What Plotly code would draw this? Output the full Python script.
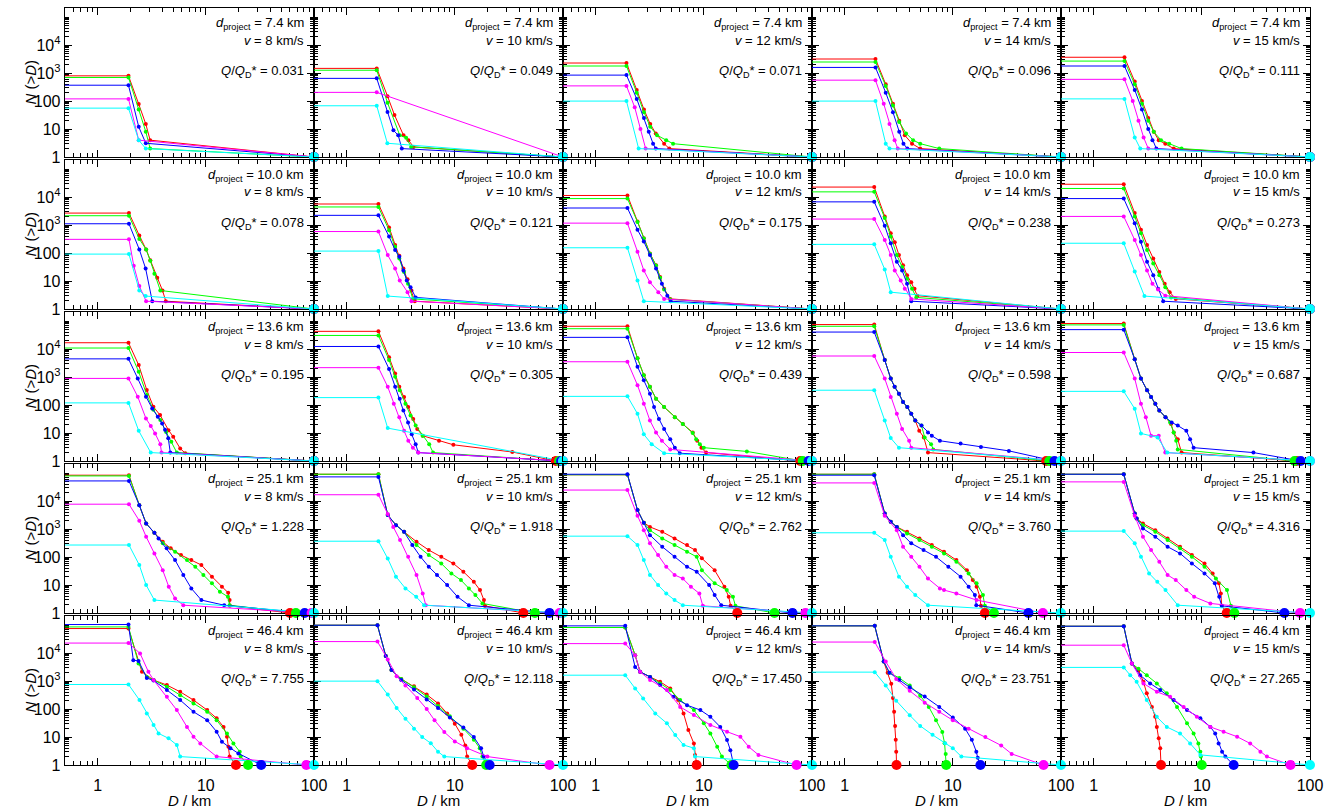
import plotly.graph_objects as go

# ---------------- labels ----------------
d_project = ["7.4", "10.0", "13.6", "25.1", "46.4"]
v_kms = ["8", "10", "12", "14", "15"]
q_ratio = [
    ["0.031", "0.049", "0.071", "0.096", "0.111"],
    ["0.078", "0.121", "0.175", "0.238", "0.273"],
    ["0.195", "0.305", "0.439", "0.598", "0.687"],
    ["1.228", "1.918", "2.762", "3.760", "4.316"],
    ["7.755", "12.118", "17.450", "23.751", "27.265"],
]
series_colors = ["#ff0000", "#00ff00", "#0000ff", "#ff00ff", "#00ffff"]
x_tickvals = [1, 10, 100]
x_ticktext = ["1", "10", "100"]
y_tickvals = [1, 10, 100, 1000, 10000]
y_ticktext = ["1", "10", "100", "10<sup>3</sup>", "10<sup>4</sup>"]

# ---------------- data: (D [km], N(>D)) ----------------
# row 1: d_project = 7.4 km
p11_red = [(0.1, 800), (1.93, 800), (2.4, 78), (2.79, 15), (3.06, 4), (100, 1)]
p11_green = [(0.1, 700), (1.93, 700), (2.4, 50), (2.79, 8), (3.06, 2), (100, 1)]
p11_blue = [(0.1, 370), (1.93, 370), (2.4, 12), (2.79, 3.1), (100, 1)]
p11_magenta = [(0.1, 120), (1.93, 120), (2.4, 4), (100, 1)]
p11_cyan = [(0.1, 56), (1.93, 56), (2.4, 4), (2.79, 2), (100, 1)]

p12_red = [(0.1, 1480), (1.9, 1480), (2.39, 150), (2.77, 32), (3.36, 6), (3.73, 4), (4.15, 2.3), (100, 1)]
p12_green = [(0.1, 1270), (1.9, 1270), (2.39, 87), (3.1, 6), (3.55, 4.9), (3.95, 2.3), (100, 1)]
p12_blue = [(0.1, 650), (1.9, 650), (2.39, 41), (2.71, 9), (3.0, 6), (3.24, 2), (100, 1)]
p12_magenta = [(0.1, 205), (1.9, 205), (100, 1)]
p12_cyan = [(0.1, 68), (1.9, 68), (2.38, 3.1), (100, 1)]

p13_red = [(0.1, 2300), (1.93, 2300), (2.4, 250), (2.8, 50), (3.2, 15), (3.6, 7), (4.3, 3), (4.8, 2), (100, 1)]
p13_green = [(0.1, 1800), (1.93, 1800), (2.4, 200), (2.8, 40), (3.2, 12), (3.7, 6), (4.5, 4), (5.2, 3), (100, 1)]
p13_blue = [(0.1, 850), (1.93, 850), (2.4, 120), (2.8, 25), (3.1, 8), (3.4, 3), (3.6, 2), (100, 1)]
p13_magenta = [(0.1, 350), (1.93, 350), (2.3, 60), (2.6, 10), (2.9, 2), (100, 1)]
p13_cyan = [(0.1, 100), (1.93, 100), (2.5, 2), (100, 1)]

p14_red = [(0.1, 3200), (1.93, 3200), (2.4, 400), (2.8, 80), (3.2, 20), (3.6, 6), (4.2, 3), (5.0, 2), (100, 1)]
p14_green = [(0.1, 2500), (1.93, 2500), (2.4, 350), (2.8, 70), (3.2, 18), (3.7, 7), (4.3, 4), (5.0, 3), (7.5, 2), (100, 1)]
p14_blue = [(0.1, 1600), (1.93, 1600), (2.4, 200), (2.8, 40), (3.2, 8), (3.5, 3), (3.8, 2), (100, 1)]
p14_magenta = [(0.1, 560), (1.93, 560), (2.3, 80), (2.6, 15), (2.9, 4), (3.1, 2), (100, 1)]
p14_cyan = [(0.1, 100), (1.93, 100), (2.4, 3), (2.6, 2), (100, 1)]

p15_red = [(0.1, 3700), (1.93, 3700), (2.4, 500), (2.8, 100), (3.2, 25), (3.6, 8), (4.0, 4), (4.6, 3), (5.5, 2), (100, 1)]
p15_green = [(0.1, 2700), (1.93, 2700), (2.4, 400), (2.8, 80), (3.2, 20), (3.6, 8), (4.2, 4), (5.0, 3), (6.5, 2), (100, 1)]
p15_blue = [(0.1, 1800), (1.93, 1800), (2.4, 250), (2.8, 50), (3.2, 10), (3.5, 4), (3.8, 2), (100, 1)]
p15_magenta = [(0.1, 600), (1.93, 600), (2.3, 100), (2.6, 20), (2.9, 5), (3.2, 2), (100, 1)]
p15_cyan = [(0.1, 120), (1.93, 120), (2.4, 5), (2.7, 2), (100, 1)]

# row 2: d_project = 10.0 km
p21_red = [(0.1, 2700), (1.95, 2700), (2.43, 425), (2.81, 135), (3.07, 56), (3.56, 13), (3.98, 4.6), (4.27, 1.9), (100, 1)]
p21_green = [(0.1, 2170), (1.95, 2170), (2.43, 320), (2.81, 135), (3.07, 53), (3.35, 18.4), (3.8, 4.6), (100, 1)]
p21_blue = [(0.1, 1120), (1.95, 1120), (2.43, 135), (2.78, 28), (3.2, 1.9), (100, 1)]
p21_magenta = [(0.1, 310), (1.95, 310), (2.16, 35), (2.43, 6.6), (2.81, 1.9), (100, 1)]
p21_cyan = [(0.1, 92), (1.95, 92), (2.43, 4.6), (2.78, 2.9), (100, 1)]

p22_red = [(0.1, 5700), (1.97, 5700), (2.47, 830), (2.81, 195), (3.07, 80), (3.35, 28), (3.66, 11.5), (3.98, 4.6), (4.27, 1.9), (100, 1)]
p22_green = [(0.1, 4470), (1.97, 4470), (2.47, 660), (2.81, 170), (3.07, 64), (3.4, 21), (3.7, 8), (4.1, 2.3), (100, 1)]
p22_blue = [(0.1, 2240), (1.97, 2240), (2.47, 390), (2.81, 128), (3.07, 74), (3.35, 24), (3.6, 10.5), (3.9, 6), (4.35, 2.6), (100, 1)]
p22_magenta = [(0.1, 590), (1.97, 590), (2.4, 85), (2.81, 28), (3.1, 10.5), (3.66, 4), (3.98, 1.9), (100, 1)]
p22_cyan = [(0.1, 118), (1.97, 118), (2.4, 2.9), (100, 1)]

p23_red = [(0.1, 11500), (1.97, 11500), (2.44, 1350), (2.79, 340), (3.18, 97), (3.62, 37), (3.95, 14), (4.3, 5.3), (4.9, 2.3), (100, 1)]
p23_green = [(0.1, 8900), (1.97, 8900), (2.44, 1300), (2.79, 330), (3.18, 95), (3.62, 36), (3.95, 13), (4.3, 5), (4.9, 2.2), (100, 1)]
p23_blue = [(0.1, 4100), (1.97, 4100), (2.44, 680), (2.79, 260), (3.18, 85), (3.62, 28), (4.1, 8), (4.6, 3), (4.95, 1.9), (100, 1)]
p23_magenta = [(0.1, 1180), (1.97, 1180), (2.44, 112), (2.79, 24), (3.18, 9), (3.8, 4), (4.3, 2.3), (100, 1)]
p23_cyan = [(0.1, 155), (1.97, 155), (2.44, 10.5), (2.79, 1.9), (100, 1)]

p24_red = [(0.1, 23000), (1.88, 23000), (2.35, 2050), (2.67, 515), (2.91, 245), (3.18, 85), (3.47, 37), (3.78, 16), (4.13, 9), (4.43, 5.3), (4.7, 3), (100, 1)]
p24_green = [(0.1, 15500), (1.88, 15500), (2.35, 1800), (2.67, 390), (3.04, 85), (3.4, 32), (3.78, 12), (4.2, 5.3), (4.6, 2.6), (100, 1)]
p24_blue = [(0.1, 6800), (1.88, 6800), (2.35, 950), (2.67, 225), (3.04, 49), (3.4, 24), (3.78, 8), (4.13, 1.9), (100, 1)]
p24_magenta = [(0.1, 1650), (1.88, 1650), (2.35, 295), (2.67, 85), (2.91, 24), (3.3, 10.5), (3.6, 5.3), (4.13, 2.3), (100, 1)]
p24_cyan = [(0.1, 205), (1.88, 205), (2.35, 26), (2.67, 4), (100, 1)]

p25_red = [(0.1, 29000), (1.9, 29000), (2.4, 2700), (2.74, 680), (3.12, 195), (3.56, 64), (4.05, 21), (4.54, 8), (5.05, 4), (5.75, 2.3), (100, 1)]
p25_green = [(0.1, 20500), (1.9, 20500), (2.4, 2050), (2.74, 515), (3.12, 128), (3.56, 42), (4.05, 16), (4.6, 6), (5.2, 2.6), (100, 1)]
p25_blue = [(0.1, 8900), (1.9, 8900), (2.4, 1180), (2.74, 257), (3.12, 49), (3.56, 16), (3.95, 5.3), (4.4, 1.9), (100, 1)]
p25_magenta = [(0.1, 2050), (1.9, 2050), (2.4, 295), (2.74, 85), (3.12, 24), (3.5, 8), (3.95, 5), (4.6, 3), (100, 1)]
p25_cyan = [(0.1, 225), (1.9, 225), (2.4, 22), (2.95, 2.9), (100, 1)]

# row 3: d_project = 13.6 km
p31_red = [(0.1, 17000), (1.93, 17000), (2.4, 2700), (2.85, 345), (3.28, 87), (3.78, 44), (4.52, 12.7), (5.0, 7.4), (5.8, 2.8), (6.46, 1.9), (100, 1)]
p31_green = [(0.1, 11000), (1.93, 11000), (2.4, 1550), (2.85, 230), (3.28, 68), (3.8, 29), (4.3, 11), (4.8, 4.9), (5.4, 2.0), (100, 1)]
p31_blue = [(0.1, 4500), (1.93, 4500), (2.35, 900), (2.8, 200), (3.2, 76), (3.6, 38), (3.95, 22), (4.2, 13), (4.5, 6.5), (4.7, 2.0), (100, 1)]
p31_magenta = [(0.1, 900), (1.93, 900), (2.35, 200), (2.8, 33), (3.1, 18), (3.4, 9.7), (3.8, 4), (3.9, 2), (100, 1)]
p31_cyan = [(0.1, 120), (1.93, 120), (2.4, 12), (3.1, 2), (100, 1)]

p32_red = [(0.1, 43500), (1.97, 43500), (2.47, 5100), (2.81, 1350), (3.07, 450), (3.4, 195), (3.71, 85), (4.13, 32), (4.5, 14), (5.05, 8), (7.15, 5.3), (9.7, 3.8), (34, 2.1), (86, 1)]
p32_green = [(0.1, 31000), (1.97, 31000), (2.47, 4100), (2.81, 1030), (3.1, 340), (3.5, 112), (3.9, 42), (4.35, 18.5), (5.05, 8), (5.8, 4), (6.3, 2), (92, 1)]
p32_blue = [(0.1, 12500), (1.97, 12500), (2.47, 1950), (2.81, 450), (3.1, 170), (3.35, 64), (3.7, 24), (4.0, 9), (4.35, 4), (4.6, 2), (96, 1)]
p32_magenta = [(0.1, 2180), (1.97, 2180), (2.4, 450), (2.73, 112), (3.07, 37), (3.4, 12), (3.72, 5.3), (4.1, 3), (4.6, 2), (100, 1)]
p32_cyan = [(0.1, 185), (1.97, 185), (2.4, 15), (100, 1)]

p33_red = [(0.1, 66000), (1.97, 66000), (2.44, 4700), (2.79, 1180), (3.18, 450), (3.62, 170), (4.3, 85), (5.4, 37), (6.4, 21), (7.9, 10.5), (8.7, 5.3), (9.5, 3), (10.5, 2), (78, 1)]
p33_green = [(0.1, 54000), (1.97, 54000), (2.44, 4700), (2.79, 1180), (3.18, 450), (3.62, 170), (4.3, 85), (5.4, 37), (6.4, 21), (7.9, 10), (8.5, 6), (9.2, 4), (10, 3), (25, 2.2), (82, 1)]
p33_blue = [(0.1, 26500), (1.97, 26500), (2.44, 2350), (2.79, 780), (3.18, 257), (3.47, 85), (3.85, 32), (4.3, 14), (4.9, 6), (5.4, 3), (6.0, 1.9), (93, 1)]
p33_magenta = [(0.1, 3550), (1.97, 3550), (2.44, 515), (2.79, 112), (3.18, 28), (3.62, 10.5), (4.1, 5.3), (4.9, 2.6), (100, 1)]
p33_cyan = [(0.1, 205), (1.97, 205), (2.44, 49), (2.79, 9), (3.3, 4), (4.3, 1.9), (100, 1)]

p34_red = [(0.1, 76000), (1.88, 76000), (2.35, 4100), (2.67, 890), (2.9, 450), (3.18, 257), (3.47, 128), (3.8, 85), (4.13, 49), (4.5, 28), (4.9, 12), (5.4, 7), (5.9, 2.0), (73, 1)]
p34_green = [(0.1, 66000), (1.88, 66000), (2.35, 4100), (2.67, 890), (2.9, 450), (3.18, 257), (3.47, 128), (3.8, 85), (4.13, 49), (4.5, 28), (5.14, 18.5), (5.5, 7), (6.3, 4), (6.6, 2.6), (78, 1)]
p34_blue = [(0.1, 41000), (1.88, 41000), (2.35, 4100), (2.67, 890), (2.9, 450), (3.18, 257), (3.47, 128), (3.8, 85), (4.13, 49), (4.5, 28), (5.14, 18.5), (5.9, 10.5), (6.4, 8), (7.6, 5.3), (11.8, 4.2), (18.2, 3.2), (33, 2.3), (87, 1)]
p34_magenta = [(0.1, 5700), (1.88, 5700), (2.35, 890), (2.67, 195), (3.04, 49), (3.4, 14), (3.95, 5.3), (4.13, 3), (100, 1)]
p34_cyan = [(0.1, 340), (1.88, 340), (2.35, 28), (2.67, 6.6), (3.18, 3), (100, 1)]

p35_red = [(0.1, 83000), (1.9, 83000), (2.4, 4350), (2.74, 890), (3.12, 340), (3.4, 195), (3.72, 112), (4.05, 64), (4.62, 37), (5.2, 21), (5.5, 10.5), (6.0, 6), (6.5, 2), (75, 1)]
p35_green = [(0.1, 74000), (1.9, 74000), (2.4, 4350), (2.74, 890), (3.12, 340), (3.4, 195), (3.72, 112), (4.05, 64), (4.62, 37), (5.1, 24), (5.5, 10.5), (5.8, 5.3), (6.0, 2.6), (72, 1)]
p35_blue = [(0.1, 50000), (1.9, 50000), (2.4, 4350), (2.74, 890), (3.12, 340), (3.4, 195), (3.72, 112), (4.05, 64), (4.62, 37), (5.27, 24), (6.0, 18.5), (7.2, 12), (7.8, 6), (8.4, 3), (30, 2), (82, 1)]
p35_magenta = [(0.1, 7600), (1.9, 7600), (2.4, 890), (2.74, 112), (3.04, 37), (3.4, 8), (4.0, 8), (4.6, 2), (100, 1)]
p35_cyan = [(0.1, 310), (1.9, 310), (2.4, 74), (2.74, 9.7), (3.9, 7), (4.8, 2), (100, 1)]

# row 4: d_project = 25.1 km
p41_red = [(0.1, 85000), (1.95, 85000), (2.43, 7200), (2.81, 1590), (3.35, 740), (4.0, 355), (4.74, 205), (5.9, 118), (7.35, 78), (9.1, 52), (11.4, 20), (14.1, 8.7), (16.1, 5.3), (16.6, 2.9), (16.7, 1.8), (60, 1)]
p41_green = [(0.1, 80000), (1.95, 80000), (2.43, 7200), (2.81, 1590), (3.35, 740), (4.0, 310), (5.2, 155), (6.7, 78), (8.0, 45), (9.5, 23), (11.4, 11.5), (13.5, 5.8), (16.0, 3.8), (16.6, 1.9), (68, 1)]
p41_blue = [(0.1, 53000), (1.95, 53000), (2.43, 7200), (2.81, 1590), (3.35, 740), (3.66, 465), (4.35, 205), (5.2, 78), (6.2, 23), (7.35, 7.6), (9.1, 2.9), (14.8, 1.9), (82, 1)]
p41_magenta = [(0.1, 7800), (1.95, 7800), (2.43, 2000), (2.81, 535), (3.35, 135), (4.0, 34), (4.55, 8.7), (5.2, 3.3), (6.2, 1.9), (95, 1)]
p41_cyan = [(0.1, 270), (1.95, 270), (2.43, 52), (2.81, 10), (3.35, 2.9), (100, 1)]

p42_red = [(0.1, 92000), (1.97, 92000), (2.4, 3200), (2.86, 1390), (3.4, 800), (4.43, 355), (5.75, 178), (7.5, 102), (9.7, 59), (12, 30), (15, 13), (17.1, 6.6), (18.6, 2.9), (19, 1.8), (43, 1)]
p42_green = [(0.1, 92000), (1.97, 92000), (2.4, 3200), (2.86, 1390), (3.4, 800), (4.43, 270), (5.75, 118), (7.5, 59), (9.3, 26), (11.4, 15), (13.5, 7.6), (15.5, 4.4), (18, 2.2), (55, 1)]
p42_blue = [(0.1, 74000), (1.97, 74000), (2.4, 3200), (2.86, 1390), (3.4, 800), (4.05, 270), (4.83, 102), (5.75, 45), (6.85, 23), (8.5, 10), (10.6, 3.8), (13.5, 1.9), (75, 1)]
p42_magenta = [(0.1, 17000), (1.97, 17000), (2.4, 3500), (2.7, 1200), (3.12, 405), (3.71, 102), (4.43, 23), (5.05, 5), (5.4, 1.9), (93, 1)]
p42_cyan = [(0.1, 370), (1.97, 370), (2.4, 89), (2.86, 20), (3.5, 7.6), (4.4, 3.8), (5.2, 1.9), (100, 1)]

p43_red = [(0.1, 88000), (1.97, 88000), (2.44, 4800), (2.79, 1700), (3.18, 1200), (4.13, 800), (5.37, 465), (7.0, 270), (8.3, 178), (9.6, 90), (12.6, 34), (15.5, 8.7), (17, 3.8), (17.7, 1.8), (20.4, 1)]
p43_green = [(0.1, 88000), (1.97, 88000), (2.44, 4800), (2.79, 1700), (3.18, 910), (4.13, 465), (5.37, 270), (7.0, 155), (8.6, 102), (9.6, 34), (12.6, 11.5), (16.3, 6.6), (18.6, 3.8), (19.6, 1.8), (45, 1)]
p43_blue = [(0.1, 92000), (1.97, 92000), (2.44, 4800), (2.79, 1700), (3.18, 610), (4.13, 235), (5.37, 102), (7.0, 45), (8.6, 30), (11.2, 10), (12.6, 4.4), (14.5, 1.9), (66, 1)]
p43_magenta = [(0.1, 25000), (1.97, 25000), (2.44, 3000), (2.79, 910), (3.18, 310), (3.78, 118), (4.5, 45), (5.37, 23), (6.4, 17), (7.6, 8.7), (9.1, 5), (9.8, 1.8), (87, 1)]
p43_cyan = [(0.1, 560), (1.97, 560), (2.44, 270), (2.79, 78), (3.18, 23), (3.78, 10), (4.5, 5), (5.37, 2.9), (6.4, 1.9), (100, 1)]

p44_red = [(0.1, 92000), (1.88, 92000), (2.35, 3600), (2.67, 1820), (3.04, 1200), (3.78, 800), (4.92, 465), (6.4, 270), (8.3, 155), (10.8, 78), (13.5, 34), (15.3, 15), (16.6, 8.7), (17.8, 3.8), (18.2, 1.8), (19.8, 1)]
p44_green = [(0.1, 92000), (1.88, 92000), (2.35, 3600), (2.67, 1820), (3.04, 1200), (3.78, 700), (4.92, 405), (6.4, 235), (8.3, 135), (10.8, 68), (14, 26), (16.6, 11.5), (19, 4.4), (19.8, 1.8), (24, 1)]
p44_blue = [(0.1, 85000), (1.88, 85000), (2.35, 3600), (2.67, 1820), (3.04, 1200), (3.47, 610), (4.13, 310), (5.37, 178), (7.0, 102), (9.1, 45), (11.8, 20), (14, 8.7), (16, 4.4), (16.5, 1.9), (50, 1)]
p44_magenta = [(0.1, 45000), (1.88, 45000), (2.35, 3000), (3.04, 910), (3.47, 235), (4.13, 102), (4.92, 45), (5.9, 17), (7.6, 7.6), (8.3, 6.6), (10.8, 5), (16.6, 2.9), (68, 1)]
p44_cyan = [(0.1, 740), (1.88, 740), (2.35, 405), (2.67, 102), (3.18, 20), (3.78, 8.7), (4.5, 4.4), (5.9, 1.9), (100, 1)]

p45_red = [(0.1, 92000), (1.9, 92000), (2.4, 3600), (2.5, 2400), (2.86, 1590), (3.72, 910), (4.83, 465), (6.3, 235), (8.1, 118), (10.6, 59), (12.6, 26), (14.4, 11.5), (15, 5), (15.3, 1.8), (17, 1)]
p45_green = [(0.1, 92000), (1.9, 92000), (2.4, 3600), (2.5, 2400), (2.86, 1390), (3.72, 800), (4.83, 405), (6.3, 205), (8.1, 102), (10.6, 45), (13.5, 17), (17.1, 6.6), (18.6, 1.8), (20, 1)]
p45_blue = [(0.1, 92000), (1.9, 92000), (2.4, 3600), (2.5, 2400), (2.86, 1050), (3.72, 535), (4.83, 235), (6.3, 135), (8.1, 59), (10.6, 26), (13.2, 11.5), (14.5, 3.8), (15.3, 1.8), (58, 1)]
p45_magenta = [(0.1, 49000), (1.9, 49000), (2.4, 3000), (2.86, 535), (3.4, 178), (4.05, 68), (4.83, 23), (5.75, 15), (7.2, 6.6), (8.5, 3.8), (12, 2.2), (81, 1)]
p45_cyan = [(0.1, 850), (1.9, 850), (2.4, 310), (2.74, 102), (3.26, 26), (3.88, 13), (4.62, 6.6), (6.0, 1.9), (100, 1)]

# row 5: d_project = 46.4 km
p51_red = [(0.1, 76000), (1.93, 76000), (2.57, 2150), (3.29, 1100), (4.37, 720), (5.8, 415), (7.7, 210), (10.3, 92), (12.6, 47), (14.6, 23), (15.7, 10.3), (16.2, 4.5), (16.6, 2.0), (19, 1)]
p51_green = [(0.1, 87000), (1.93, 87000), (2.39, 4300), (2.85, 1420), (3.29, 1100), (4.37, 630), (5.8, 315), (7.7, 160), (10.3, 80), (12.6, 40), (15.7, 13.5), (18, 5.9), (20.6, 3), (21, 2), (24.6, 1)]
p51_blue = [(0.1, 106000), (1.93, 106000), (2.14, 5600), (2.39, 5300), (2.85, 1300), (3.29, 1050), (4.37, 480), (5.8, 210), (7.7, 80), (10.3, 40), (12.6, 15.5), (14.1, 6.8), (16.9, 4), (20, 2.6), (32.5, 1)]
p51_magenta = [(0.1, 23000), (1.93, 23000), (2.47, 9800), (2.95, 2150), (3.29, 1100), (4.37, 275), (5.4, 92), (6.7, 23), (7.7, 10.3), (8.9, 5.9), (12.6, 2), (85, 1)]
p51_cyan = [(0.1, 760), (1.93, 760), (2.44, 210), (2.85, 70), (3.29, 27), (3.66, 13.5), (4.53, 9), (5.4, 5.2), (5.8, 2), (100, 1)]

p52_red = [(0.1, 100000), (1.93, 100000), (2.3, 8000), (2.6, 2500), (3.2, 1200), (4.2, 650), (5.5, 330), (7.0, 160), (8.5, 70), (10, 30), (11.5, 12), (12.5, 5), (13, 2), (14.5, 1)]
p52_green = [(0.1, 100000), (1.93, 100000), (2.3, 8000), (2.6, 2500), (3.2, 1200), (4.2, 600), (5.5, 280), (7.0, 130), (9.0, 55), (12, 20), (15, 8), (17, 4), (18, 2), (19.5, 1)]
p52_blue = [(0.1, 100000), (1.93, 100000), (2.3, 8000), (2.6, 2500), (3.2, 1100), (4.2, 500), (5.5, 220), (7.0, 110), (9.0, 50), (12, 22), (15, 10), (17.5, 4), (18.5, 2), (21, 1)]
p52_magenta = [(0.1, 26000), (1.93, 26000), (2.4, 6000), (2.9, 1500), (3.5, 700), (4.5, 250), (5.5, 100), (6.5, 40), (8, 15), (10, 7), (13, 4), (20, 2), (75, 1)]
p52_cyan = [(0.1, 1000), (1.93, 1000), (2.4, 330), (2.9, 110), (3.5, 45), (4.2, 20), (5, 10), (6, 6), (7, 3), (8, 2), (100, 1)]

p53_red = [(0.1, 83000), (1.88, 83000), (2.32, 8500), (2.58, 2150), (3.19, 1420), (3.95, 950), (4.9, 550), (5.8, 210), (6.5, 70), (7.2, 17.8), (8.1, 5.9), (8.3, 2.3), (8.6, 1)]
p53_green = [(0.1, 83000), (1.88, 83000), (2.32, 8500), (2.58, 2150), (3.19, 1420), (3.95, 830), (4.9, 480), (6.05, 210), (8.1, 92), (10, 31), (11.5, 13.5), (13.3, 4.5), (14.7, 2.0), (18, 1)]
p53_blue = [(0.1, 95000), (1.88, 95000), (2.32, 3200), (2.58, 2150), (3.19, 1420), (3.95, 720), (5.25, 275), (7.0, 138), (9.3, 92), (11.5, 53), (14.2, 23), (16.4, 7.8), (17.6, 3.4), (18.9, 1)]
p53_magenta = [(0.1, 22000), (1.88, 22000), (2.32, 8500), (2.58, 2150), (3.19, 1100), (4.56, 480), (6.05, 120), (8.1, 62), (11.5, 27), (16.4, 15.5), (21.8, 10.3), (26, 4.5), (32, 2.3), (72, 1)]
p53_cyan = [(0.1, 1630), (1.88, 1630), (2.32, 550), (2.75, 240), (3.56, 70), (4.56, 31), (5.45, 11.8), (6.5, 5.2), (8.1, 4), (8.3, 2), (100, 1)]

p54_red = [(0.1, 95000), (1.9, 95000), (2.3, 5000), (2.5, 2000), (2.7, 800), (2.8, 250), (2.87, 80), (2.93, 25), (2.97, 8), (3.0, 3), (3.02, 1)]
p54_green = [(0.1, 95000), (1.9, 95000), (2.3, 5000), (2.6, 2000), (3.2, 1300), (4.0, 700), (5.0, 300), (6.0, 120), (7.0, 40), (8.0, 15), (8.4, 6), (8.6, 2.5), (8.7, 1)]
p54_blue = [(0.1, 95000), (1.9, 95000), (2.3, 5000), (2.6, 2000), (3.2, 1100), (4.0, 600), (5.5, 280), (7.5, 120), (10, 50), (13, 20), (15, 8), (16.5, 3), (17, 1.8), (18, 1)]
p54_magenta = [(0.1, 25000), (1.9, 25000), (2.4, 5000), (3.0, 1200), (4.0, 450), (5.5, 170), (7.5, 80), (10, 40), (14, 20), (20, 10), (28, 5), (35, 2.5), (69, 1)]
p54_cyan = [(0.1, 2100), (1.9, 2100), (2.4, 700), (3.0, 200), (4.0, 60), (5.0, 25), (6.5, 12), (8.5, 6), (10, 4), (12, 2), (100, 1)]

p55_red = [(0.1, 92000), (1.9, 92000), (2.26, 4300), (2.6, 2450), (2.89, 950), (3.1, 365), (3.46, 120), (3.71, 53), (3.84, 23), (4.0, 9), (4.13, 4), (4.2, 1)]
p55_green = [(0.1, 92000), (1.9, 92000), (2.26, 4300), (2.6, 2800), (3.1, 1630), (3.84, 830), (4.75, 365), (5.9, 120), (7.3, 31), (8.4, 13.5), (9.3, 5.9), (9.7, 3), (9.8, 2), (10, 1)]
p55_blue = [(0.1, 92000), (1.9, 92000), (2.26, 4300), (2.69, 1630), (3.33, 830), (4.13, 480), (5.5, 210), (7.3, 92), (9.7, 47), (12, 23), (13.3, 13.5), (14.3, 5.9), (15.4, 3), (16.5, 2), (19.7, 1)]
p55_magenta = [(0.1, 19300), (1.9, 19300), (2.26, 4300), (2.89, 830), (3.84, 415), (5.1, 275), (6.8, 120), (9.0, 53), (12, 23), (15.9, 15.5), (21.2, 10.3), (28, 5.9), (34.8, 3), (40, 2), (66, 1)]
p55_cyan = [(0.1, 3100), (1.9, 3100), (2.18, 1630), (2.5, 950), (3.1, 210), (3.84, 53), (4.75, 23), (6.3, 13.5), (7.8, 5.9), (9.7, 2.3), (100, 1)]

panels = [
    [[p11_red, p11_green, p11_blue, p11_magenta, p11_cyan],
     [p12_red, p12_green, p12_blue, p12_magenta, p12_cyan],
     [p13_red, p13_green, p13_blue, p13_magenta, p13_cyan],
     [p14_red, p14_green, p14_blue, p14_magenta, p14_cyan],
     [p15_red, p15_green, p15_blue, p15_magenta, p15_cyan]],
    [[p21_red, p21_green, p21_blue, p21_magenta, p21_cyan],
     [p22_red, p22_green, p22_blue, p22_magenta, p22_cyan],
     [p23_red, p23_green, p23_blue, p23_magenta, p23_cyan],
     [p24_red, p24_green, p24_blue, p24_magenta, p24_cyan],
     [p25_red, p25_green, p25_blue, p25_magenta, p25_cyan]],
    [[p31_red, p31_green, p31_blue, p31_magenta, p31_cyan],
     [p32_red, p32_green, p32_blue, p32_magenta, p32_cyan],
     [p33_red, p33_green, p33_blue, p33_magenta, p33_cyan],
     [p34_red, p34_green, p34_blue, p34_magenta, p34_cyan],
     [p35_red, p35_green, p35_blue, p35_magenta, p35_cyan]],
    [[p41_red, p41_green, p41_blue, p41_magenta, p41_cyan],
     [p42_red, p42_green, p42_blue, p42_magenta, p42_cyan],
     [p43_red, p43_green, p43_blue, p43_magenta, p43_cyan],
     [p44_red, p44_green, p44_blue, p44_magenta, p44_cyan],
     [p45_red, p45_green, p45_blue, p45_magenta, p45_cyan]],
    [[p51_red, p51_green, p51_blue, p51_magenta, p51_cyan],
     [p52_red, p52_green, p52_blue, p52_magenta, p52_cyan],
     [p53_red, p53_green, p53_blue, p53_magenta, p53_cyan],
     [p54_red, p54_green, p54_blue, p54_magenta, p54_cyan],
     [p55_red, p55_green, p55_blue, p55_magenta, p55_cyan]],
]

# ---------------- layout geometry (page pixels) ----------------
W, H = 1335, 812
PLOT_L, PLOT_R, PLOT_T, PLOT_B = 65, 1310, 8, 765
ML, MT = PLOT_L, PLOT_T
MR, MB = W - PLOT_R, H - PLOT_B
PLOT_W = PLOT_R - PLOT_L
PLOT_H = PLOT_B - PLOT_T
ROW_H, ROW_GAP = 149, 3

FONT = "Liberation Sans, Arial, Helvetica, sans-serif"

x_minor = [m * 10 ** e for e in (-1, 0, 1) for m in range(2, 10) if 0.5 <= m * 10 ** e <= 100]
y_minor = [m * 10 ** e for e in range(0, 6) for m in range(1, 10)
           if (m > 1 or e == 5) and m * 10 ** e <= 2.1e5]

fig = go.Figure()
layout = dict(
    width=W, height=H,
    margin=dict(l=ML, r=MR, t=MT, b=MB, pad=0),
    paper_bgcolor="white", plot_bgcolor="white",
    showlegend=False,
    font=dict(family=FONT, size=16, color="black"),
)
annotations = []

def py(page_y):
    return (PLOT_B - page_y) / PLOT_H

def px(page_x):
    return (page_x - PLOT_L) / PLOT_W

for r in range(5):
    top_px = PLOT_T + r * (ROW_H + ROW_GAP)
    y1, y0 = py(top_px), py(top_px + ROW_H)
    for c in range(5):
        k = r * 5 + c + 1
        xs = "" if k == 1 else str(k)
        xa, ya = "x" + xs, "y" + xs
        x0, x1 = c / 5.0, (c + 1) / 5.0
        layout["xaxis" + xs] = dict(
            domain=[x0, x1], anchor=ya, type="log", range=[-0.30103, 2.0],
            showline=True, linecolor="black", linewidth=1.3, mirror="allticks",
            ticks="inside", ticklen=7, tickwidth=1, tickcolor="black",
            tickvals=x_tickvals, ticktext=x_ticktext, showticklabels=(r == 4),
            ticklabelstandoff=5,
            tickfont=dict(size=16), showgrid=False, zeroline=False,
            minor=dict(ticks="inside", ticklen=4, tickvals=x_minor, tickcolor="black", showgrid=False),
            layer="below traces",
        )
        layout["yaxis" + xs] = dict(
            domain=[y0, y1], anchor=xa, type="log", range=[0, 5.33],
            showline=True, linecolor="black", linewidth=1.3, mirror="allticks",
            ticks="inside", ticklen=7, tickwidth=1, tickcolor="black",
            tickvals=y_tickvals, ticktext=y_ticktext, showticklabels=(c == 0),
            tickfont=dict(size=16), showgrid=False, zeroline=False,
            minor=dict(ticks="inside", ticklen=4, tickvals=y_minor, tickcolor="black", showgrid=False),
            layer="below traces",
        )
        for s, pts in enumerate(panels[r][c]):
            D = [p[0] for p in pts]
            N = [p[1] for p in pts]
            col = series_colors[s]
            fig.add_trace(go.Scatter(
                x=D, y=N, xaxis=xa, yaxis=ya, mode="lines+markers",
                line=dict(color=col, width=1), marker=dict(color=col, size=4),
                hoverinfo="skip",
            ))
        for s, pts in enumerate(panels[r][c]):
            col = series_colors[s]
            fig.add_trace(go.Scatter(
                x=[pts[-1][0]], y=[pts[-1][1]], xaxis=xa, yaxis=ya, mode="markers",
                marker=dict(color=col, size=10), cliponaxis=False, hoverinfo="skip",
            ))
        # panel labels
        xr = px(PLOT_L + (c + 1) * PLOT_W / 5.0 - 8)
        annotations.append(dict(xref="paper", yref="paper", x=xr, y=py(top_px + 15), xanchor="right",
                                yanchor="middle", text="<i>d</i><sub>project</sub> = %s km" % d_project[r],
                                showarrow=False, font=dict(size=13)))
        annotations.append(dict(xref="paper", yref="paper", x=xr, y=py(top_px + 32), xanchor="right",
                                yanchor="middle", text="<i>v</i> = %s km/s" % v_kms[c],
                                showarrow=False, font=dict(size=13)))
        annotations.append(dict(xref="paper", yref="paper", x=xr, y=py(top_px + 63), xanchor="right",
                                yanchor="middle", text="<i>Q</i>/<i>Q</i><sub>D</sub>* = %s" % q_ratio[r][c],
                                showarrow=False, font=dict(size=13)))
    # y-axis title for each row
    annotations.append(dict(xref="paper", yref="paper", x=px(30), y=(y0 + y1) / 2,
                            xanchor="center", yanchor="middle", textangle=-90,
                            text="<i>N</i> (&gt;<i>D</i>)", showarrow=False, font=dict(size=15)))

for c in range(5):
    annotations.append(dict(xref="paper", yref="paper", x=(c + 0.5) / 5.0, y=py(800),
                            xanchor="center", yanchor="middle", text="<i>D</i> / km", showarrow=False,
                            font=dict(size=15)))

layout["annotations"] = annotations
fig.update_layout(**layout)
fig.write_html("out.html", config={"displayModeBar": False, "staticPlot": True},
               post_script="document.body.style.margin='0px';document.body.style.overflow='hidden';")
